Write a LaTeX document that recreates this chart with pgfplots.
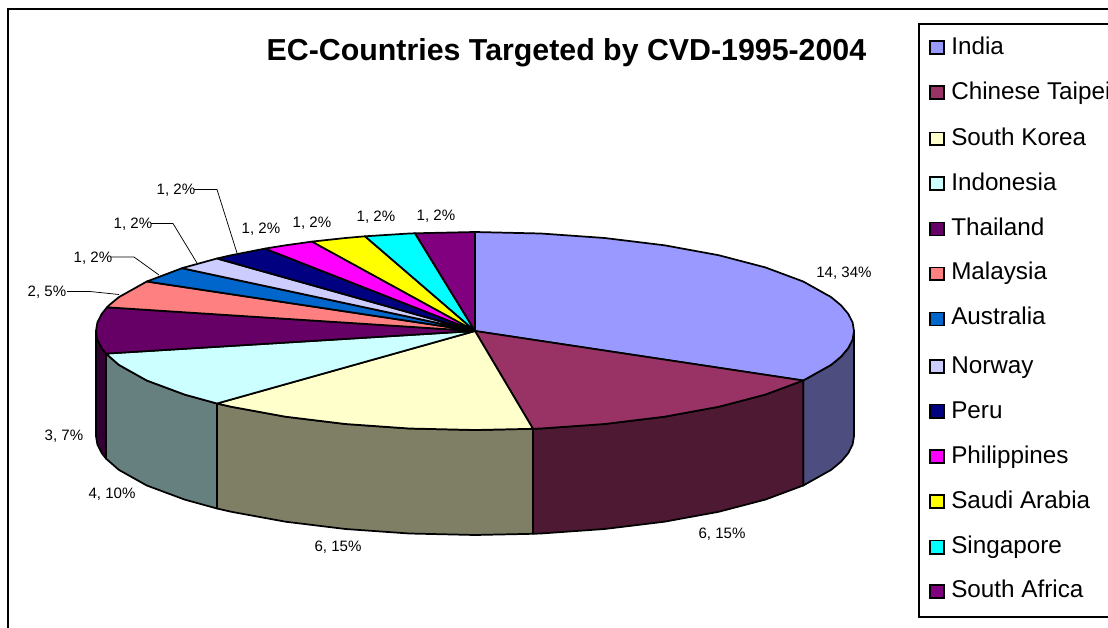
\documentclass[border=0pt]{standalone}
\usepackage{fontspec}
\setmainfont{Liberation Sans}
\usepackage{pgfplots}
\pgfplotsset{compat=1.18}

% colours of the slices (top face) and their darker side faces
\definecolor{cIndia}{RGB}{153,153,255}
\definecolor{cTaipei}{RGB}{153,51,102}
\definecolor{cKorea}{RGB}{255,255,204}
\definecolor{cIndonesia}{RGB}{204,255,255}
\definecolor{cThailand}{RGB}{102,0,102}
\definecolor{cMalaysia}{RGB}{255,128,128}
\definecolor{cAustralia}{RGB}{0,102,204}
\definecolor{cNorway}{RGB}{204,204,255}
\definecolor{cPeru}{RGB}{0,0,128}
\definecolor{cPhilippines}{RGB}{255,0,255}
\definecolor{cSaudi}{RGB}{255,255,0}
\definecolor{cSingapore}{RGB}{0,255,255}
\definecolor{cSAfrica}{RGB}{128,0,128}
\definecolor{dIndia}{RGB}{77,77,127}
\definecolor{dTaipei}{RGB}{77,25,51}
\definecolor{dKorea}{RGB}{127,127,102}
\definecolor{dIndonesia}{RGB}{102,127,127}
\definecolor{dThailand}{RGB}{51,0,51}

\pgfplotsset{
  slice/.style={draw=black,line width=1.3pt,line join=round,fill=#1},
  swatch/.style={draw=black,line width=1.1pt,fill=#1},
  leader/.style={draw=black,line width=0.55pt},
  frame/.style={draw=black,line width=0.8pt},
}
\newcommand{\lab}[3]{\node[font=\fontsize{11.3}{13}\selectfont,text=black] at (axis cs:#1,#2) {#3};}
\newcommand{\leg}[2]{\node[anchor=base west,font=\fontsize{18.2}{22}\selectfont,inner sep=0pt] at (axis cs:951,#1) {#2};}

\begin{document}
\begin{tikzpicture}
\begin{axis}[
  scale only axis,width=831pt,height=471pt,
  xmin=0,xmax=1108,ymin=0,ymax=628,y dir=reverse,
  hide axis,
]
% frame
\addplot[frame] coordinates {(8,628) (8,9) (1108,9)};
\addplot[frame,fill=white] coordinates {(1110,24) (919,24) (919,617) (1110,617)};

% side faces
\addplot[slice=dIndia] coordinates {(854,331) (852.6,339.6) (848.2,348.2) (841.1,356.6) (831.1,364.9) (803.2,380.5) (803.2,485.5) (831.1,469.9) (841.1,461.6) (848.2,453.2) (852.6,444.6) (854,436)} --cycle;
\addplot[slice=dTaipei] coordinates {(803.2,380.5) (765.3,394.6) (718.6,406.8) (664.5,416.7) (604.6,424) (540.8,428.5) (533,428.8) (533,533.8) (540.8,533.5) (604.6,529) (664.5,521.7) (718.6,511.8) (765.3,499.6) (803.2,485.5)} --cycle;
\addplot[slice=dKorea] coordinates {(533,428.8) (475,430) (409.2,428.5) (345.4,424) (285.5,416.7) (231.4,406.8) (217,403.5) (217,508.5) (231.4,511.8) (285.5,521.7) (345.4,529) (409.2,533.5) (475,535) (533,533.8)} --cycle;
\addplot[slice=dIndonesia] coordinates {(217,403.5) (184.7,394.6) (146.8,380.5) (118.9,364.9) (106,353.6) (106,458.6) (118.9,469.9) (146.8,485.5) (184.7,499.6) (217,508.5)} --cycle;
\addplot[slice=dThailand] coordinates {(106,353.6) (101.8,348.2) (97.4,339.6) (96,331) (96,436) (97.4,444.6) (101.8,453.2) (106,458.6)} --cycle;

% top faces: 14, 6, 6, 4, 3, 2, 1, 1, 1, 1, 1, 1, 1
\addplot[slice=cIndia] coordinates {(475,331) (475,232) (540.8,233.5) (604.6,238) (664.5,245.3) (718.6,255.2) (765.3,267.4) (803.2,281.5) (831.1,297.1) (841.1,305.4) (848.2,313.8) (852.6,322.4) (854,331) (852.6,339.6) (848.2,348.2) (841.1,356.6) (831.1,364.9) (803.2,380.5)} --cycle;
\addplot[slice=cTaipei] coordinates {(475,331) (803.2,380.5) (765.3,394.6) (718.6,406.8) (664.5,416.7) (604.6,424) (540.8,428.5) (533,428.8)} --cycle;
\addplot[slice=cKorea] coordinates {(475,331) (533,428.8) (475,430) (409.2,428.5) (345.4,424) (285.5,416.7) (231.4,406.8) (217,403.5)} --cycle;
\addplot[slice=cIndonesia] coordinates {(475,331) (217,403.5) (184.7,394.6) (146.8,380.5) (118.9,364.9) (106,353.6)} --cycle;
\addplot[slice=cThailand] coordinates {(475,331) (106,353.6) (101.8,348.2) (97.4,339.6) (96,331) (97.4,322.4) (101.8,313.8) (107,307.3)} --cycle;
\addplot[slice=cMalaysia] coordinates {(475,331) (107,307.3) (108.9,305.4) (118.9,297.1) (146.8,281.5)} --cycle;
\addplot[slice=cAustralia] coordinates {(475,331) (146.8,281.5) (182,268.2)} --cycle;
\addplot[slice=cNorway] coordinates {(475,331) (182,268.2) (184.7,267.4) (217,258.5)} --cycle;
\addplot[slice=cPeru] coordinates {(475,331) (217,258.5) (231.4,255.2) (265,248.6)} --cycle;
\addplot[slice=cPhilippines] coordinates {(475,331) (265,248.6) (285.5,245.3) (312,241.6)} --cycle;
\addplot[slice=cSaudi] coordinates {(475,331) (312,241.6) (345.4,238) (365,236.3)} --cycle;
\addplot[slice=cSingapore] coordinates {(475,331) (365,236.3) (409.2,233.5) (415,233.3)} --cycle;
\addplot[slice=cSAfrica] coordinates {(475,331) (415,233.3) (475,232)} --cycle;

% leader lines
\addplot[leader] coordinates {(67,291.5) (90,291.5) (119,294.5)};
\addplot[leader] coordinates {(111,257) (134,257) (159,275)};
\addplot[leader] coordinates {(151,223.5) (173,223.5) (197,263)};
\addplot[leader] coordinates {(194,189.5) (217,189.5) (237,253)};

% legend swatches
\addplot[swatch=cIndia] coordinates {(930,41) (944,41) (944,54) (930,54)} --cycle;
\addplot[swatch=cTaipei] coordinates {(930,86) (944,86) (944,99) (930,99)} --cycle;
\addplot[swatch=cKorea] coordinates {(930,132.5) (944,132.5) (944,145) (930,145)} --cycle;
\addplot[swatch=cIndonesia] coordinates {(930,177) (944,177) (944,190) (930,190)} --cycle;
\addplot[swatch=cThailand] coordinates {(930,222.5) (944,222.5) (944,235.5) (930,235.5)} --cycle;
\addplot[swatch=cMalaysia] coordinates {(930,267.5) (944,267.5) (944,280) (930,280)} --cycle;
\addplot[swatch=cAustralia] coordinates {(930,312.5) (944,312.5) (944,325.5) (930,325.5)} --cycle;
\addplot[swatch=cNorway] coordinates {(930,360) (944,360) (944,373) (930,373)} --cycle;
\addplot[swatch=cPeru] coordinates {(930,404.5) (944,404.5) (944,418) (930,418)} --cycle;
\addplot[swatch=cPhilippines] coordinates {(930,450) (944,450) (944,463) (930,463)} --cycle;
\addplot[swatch=cSaudi] coordinates {(930,495) (944,495) (944,508) (930,508)} --cycle;
\addplot[swatch=cSingapore] coordinates {(930,540.5) (944,540.5) (944,554) (930,554)} --cycle;
\addplot[swatch=cSAfrica] coordinates {(930,585) (944,585) (944,598) (930,598)} --cycle;

% title
\node[font=\fontsize{22.75}{26}\selectfont\bfseries] at (axis cs:566.5,52.5) {EC-Countries Targeted by CVD-1995-2004};

% data labels
\lab{844}{273}{14, 34\%}
\lab{722}{534.5}{6, 15\%}
\lab{338}{547.5}{6, 15\%}
\lab{112}{494}{4, 10\%}
\lab{64}{436}{3, 7\%}
\lab{47}{292}{2, 5\%}
\lab{93}{258}{1, 2\%}
\lab{133}{224}{1, 2\%}
\lab{176}{190}{1, 2\%}
\lab{261}{229}{1, 2\%}
\lab{312}{223}{1, 2\%}
\lab{376}{217}{1, 2\%}
\lab{436}{216}{1, 2\%}

% legend text
\leg{54}{India}
\leg{99}{Chinese Taipei}
\leg{145}{South Korea}
\leg{190}{Indonesia}
\leg{235}{Thailand}
\leg{279}{Malaysia}
\leg{324}{Australia}
\leg{373}{Norway}
\leg{418}{Peru}
\leg{463}{Philippines}
\leg{508}{Saudi Arabia}
\leg{553}{Singapore}
\leg{597}{South Africa}
\end{axis}
\pgfresetboundingbox
\path[use as bounding box] (0,0) rectangle (831pt,471pt);
\end{tikzpicture}
\end{document}
